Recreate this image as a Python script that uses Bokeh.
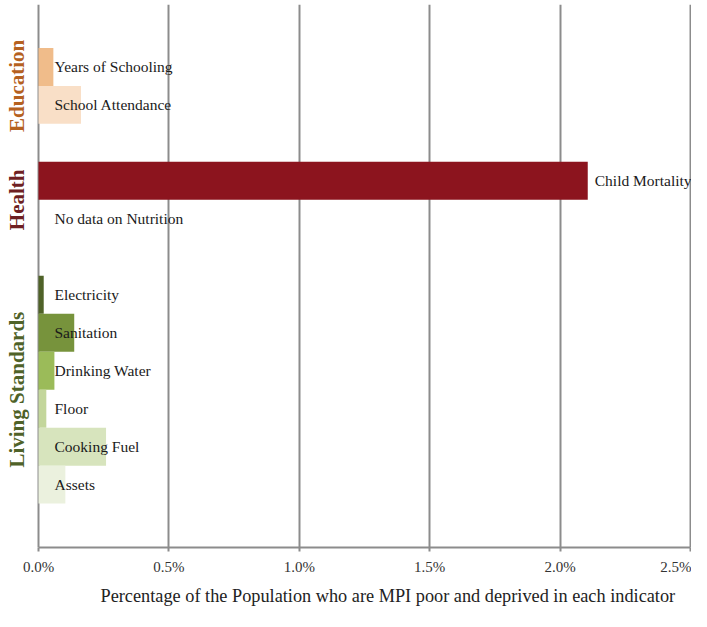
import math
from bokeh.plotting import figure
from bokeh.models import Range1d, FixedTicker, PrintfTickFormatter, Label, ColumnDataSource, Title
from bokeh.core.properties import value
from bokeh.embed import file_html
from bokeh.resources import INLINE

# ---- data ----
indicators = ["Years of Schooling", "School Attendance", "Child Mortality", "No data on Nutrition",
              "Electricity", "Sanitation", "Drinking Water", "Floor", "Cooking Fuel", "Assets"]
values = [0.057, 0.163, 2.106, float("nan"), 0.020, 0.137, 0.061, 0.030, 0.259, 0.103]
rows = [13, 12, 10, 9, 7, 6, 5, 4, 3, 2]
colors = ["#F0BC8A", "#F9DFC7", "#8C141E", "#FFFFFF",
          "#4F6228", "#77933C", "#9BBB59", "#C3D69B", "#D7E4BD", "#EBF1DE"]
groups = ["Education", "Health", "Living Standards"]
group_centers = [12.5, 9.5, 4.5]
group_colors = ["#B5611F", "#6E1F22", "#4F6228"]
ticks = [0.0, 0.5, 1.0, 1.5, 2.0, 2.5]
axis_title = "Percentage of the Population who are MPI poor and deprived in each indicator"

FONT = "Liberation Serif"

# frame spans the whole canvas; x=0 sits 38px from the left edge
PX_PER_UNIT = (690 - 38) / 2.5
x_start = -38 / PX_PER_UNIT
x_end = 2.5 + 1 / PX_PER_UNIT

big = [(not math.isnan(v)) and v > 1.0 for v in values]
label_x = [v if b else 0.0 for v, b in zip(values, big)]
label_off = [7 if b else 16 for b in big]
src = ColumnDataSource(dict(y=rows, right=values, color=colors, name=indicators,
                            lx=label_x, off=label_off))

p = figure(width=691, height=611, output_backend="svg", toolbar_location=None,
           x_range=Range1d(x_start, x_end), y_range=Range1d(0.344, 14.643),
           min_border_left=0, min_border_right=0, min_border_top=4, min_border_bottom=63)
p.outline_line_color = None
p.background_fill_color = "white"

p.hbar(y="y", left=0, right="right", height=1.0, color="color", line_color=None, source=src)
p.text(x="lx", y="y", text="name", source=src, x_offset="off",
       text_font=value(FONT), text_font_size="15.5px", text_color="#1a1a1a",
       text_baseline="middle", text_align="left")

p.yaxis.visible = False
p.ygrid.visible = False
p.xaxis.bounds = (0, 2.5)
p.xaxis.ticker = FixedTicker(ticks=ticks)
p.xgrid.ticker = FixedTicker(ticks=ticks)
p.xgrid.grid_line_color = "#8C8C8C"
p.xgrid.grid_line_width = 2
p.xaxis.formatter = PrintfTickFormatter(format="%.1f%%")
p.xaxis.axis_line_color = "#8C8C8C"
p.xaxis.axis_line_width = 2
p.xaxis.major_tick_line_color = "#8C8C8C"
p.xaxis.major_tick_line_width = 2
p.xaxis.major_tick_out = 4
p.xaxis.major_tick_in = 0
p.xaxis.minor_tick_line_color = None
p.xaxis.major_label_text_font = FONT
p.xaxis.major_label_text_font_size = "15px"
p.xaxis.major_label_text_color = "#333333"
p.xaxis.major_label_standoff = 7

p.add_layout(Title(text=axis_title, align="left", offset=94, standoff=0, padding=6,
                   text_font=FONT, text_font_size="18.3px", text_font_style="normal",
                   text_color="#222222"), "below")

for g, c, col in zip(groups, group_centers, group_colors):
    p.add_layout(Label(x=16, y=c, x_units="screen", y_units="data", text=g, angle=math.pi / 2,
                       text_font=FONT, text_font_size="21px", text_font_style="bold",
                       text_color=col, text_align="center", text_baseline="middle"))

open("out.html", "w").write(file_html(p, INLINE))
